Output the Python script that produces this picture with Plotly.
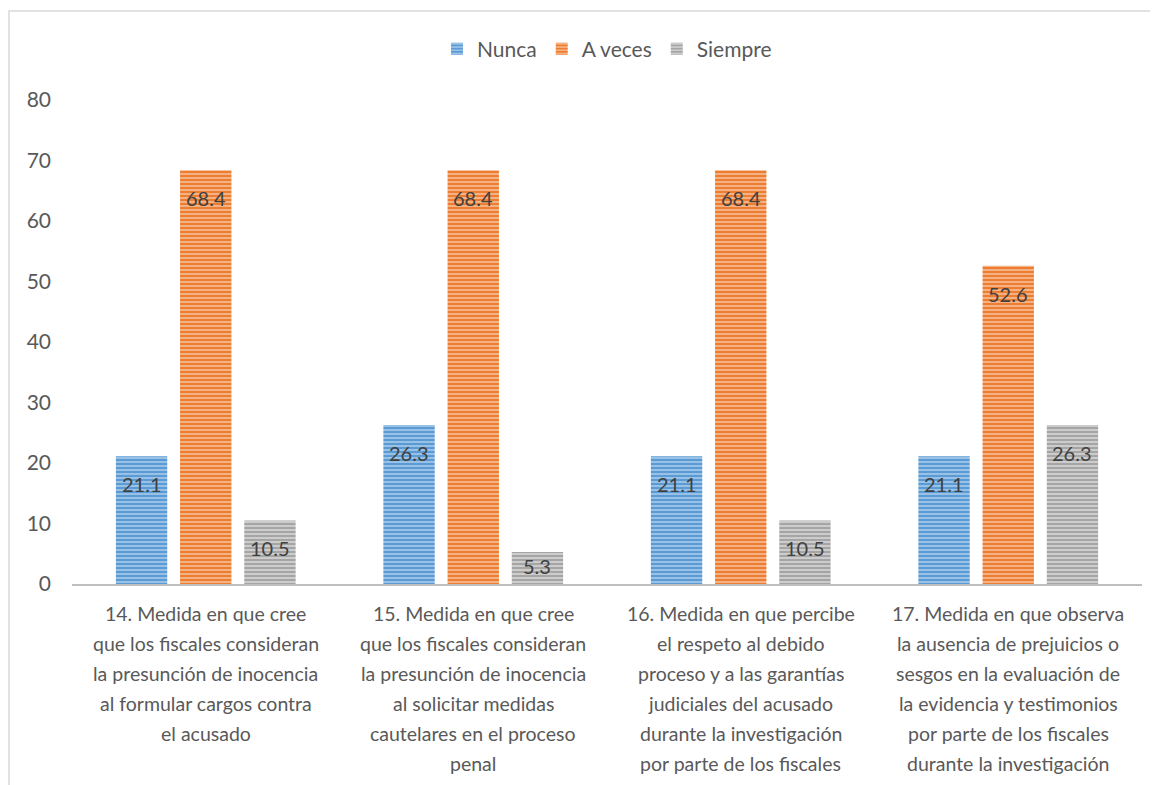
import plotly.graph_objects as go

categories = [
    "14. Medida en que cree<br>que los fiscales consideran<br>la presunción de inocencia<br>al formular cargos contra<br>el acusado",
    "15. Medida en que cree<br>que los fiscales consideran<br>la presunción de inocencia<br>al solicitar medidas<br>cautelares en el proceso<br>penal",
    "16. Medida en que percibe<br>el respeto al debido<br>proceso y a las garantías<br>judiciales del acusado<br>durante la investigación<br>por parte de los fiscales",
    "17. Medida en que observa<br>la ausencia de prejuicios o<br>sesgos en la evaluación de<br>la evidencia y testimonios<br>por parte de los fiscales<br>durante la investigación",
]
nunca = [21.1, 26.3, 21.1, 21.1]
a_veces = [68.4, 68.4, 68.4, 52.6]
siempre = [10.5, 5.3, 10.5, 26.3]
y_ticks = [0, 10, 20, 30, 40, 50, 60, 70, 80]

FONT = "Lato, 'Open Sans', sans-serif"
series = [
    ("Nunca", nunca, "#5B9BD5", "#A9CBEB"),
    ("A veces", a_veces, "#ED7D31", "#F6BE98"),
    ("Siempre", siempre, "#A5A5A5", "#D6D6D6"),
]

# layout geometry (page has 8px body margin)
W, H = 1150, 777
ML, MR, MT, MB = 64, 16, 92, 201
Y_MAX = 80
BARGAP, GROUPGAP = 0.28, 0.2
plot_w = W - ML - MR
plot_h = H - MT - MB
cat_w = plot_w / len(categories)
slot_w = cat_w * (1 - BARGAP) / len(series)

fig = go.Figure()
annotations = []
for k, (name, vals, col, light) in enumerate(series):
    fig.add_trace(go.Bar(
        name=name, x=list(range(len(categories))), y=vals,
        marker=dict(color=col, line=dict(width=0),
                    pattern=dict(shape="-", fgcolor=light, bgcolor=col,
                                 size=4, solidity=0.4, fillmode="replace")),
        hoverinfo="y",
    ))
    xshift = (k - (len(series) - 1) / 2) * slot_w
    for i, v in enumerate(vals):
        bar_px = v * plot_h / Y_MAX
        annotations.append(dict(
            x=i, y=v, xref="x", yref="y", text=f"{v:.1f}", showarrow=False,
            xanchor="center", yanchor="middle", xshift=xshift,
            yshift=-min(28, bar_px / 2 - 2),
            font=dict(family=FONT, size=20, color="#404040"),
        ))

for i, cat in enumerate(categories):
    for j, line in enumerate(cat.split("<br>")):
        annotations.append(dict(
            x=i, y=0, xref="x", yref="y", text=line, showarrow=False,
            xanchor="center", yanchor="middle", yshift=-(29 + 30 * j),
            font=dict(family=FONT, size=19.5, color="#595959"),
        ))

fig.update_layout(
    width=W, height=H,
    margin=dict(l=ML, r=MR, t=MT, b=MB),
    paper_bgcolor="white", plot_bgcolor="white",
    barmode="group", bargap=BARGAP, bargroupgap=GROUPGAP,
    font=dict(family=FONT, size=20, color="#595959"),
    showlegend=True,
    legend=dict(orientation="h", x=0.5, xanchor="center", y=(plot_h + 51) / plot_h,
                yanchor="middle",
                font=dict(family=FONT, size=21, color="#595959"),
                itemwidth=30, traceorder="normal"),
    xaxis=dict(range=[-0.5, len(categories) - 0.5], showticklabels=False,
               showline=True, linecolor="#BFBFBF", linewidth=2, ticks="",
               showgrid=False, zeroline=False, fixedrange=True),
    yaxis=dict(range=[0, Y_MAX], tickvals=y_ticks, showgrid=False, zeroline=False,
               showline=False, ticks="", ticklabelstandoff=20,
               tickfont=dict(family=FONT, size=21, color="#595959")),
    annotations=annotations,
    shapes=[dict(type="rect", xref="paper", yref="paper",
                 x0=(9 - 72) / 1070, x1=1.05, y0=-0.5, y1=(584 - 11) / 484,
                 line=dict(color="#D9D9D9", width=1.5), fillcolor="rgba(0,0,0,0)",
                 layer="below")],
)

fig.write_html("out.html")
